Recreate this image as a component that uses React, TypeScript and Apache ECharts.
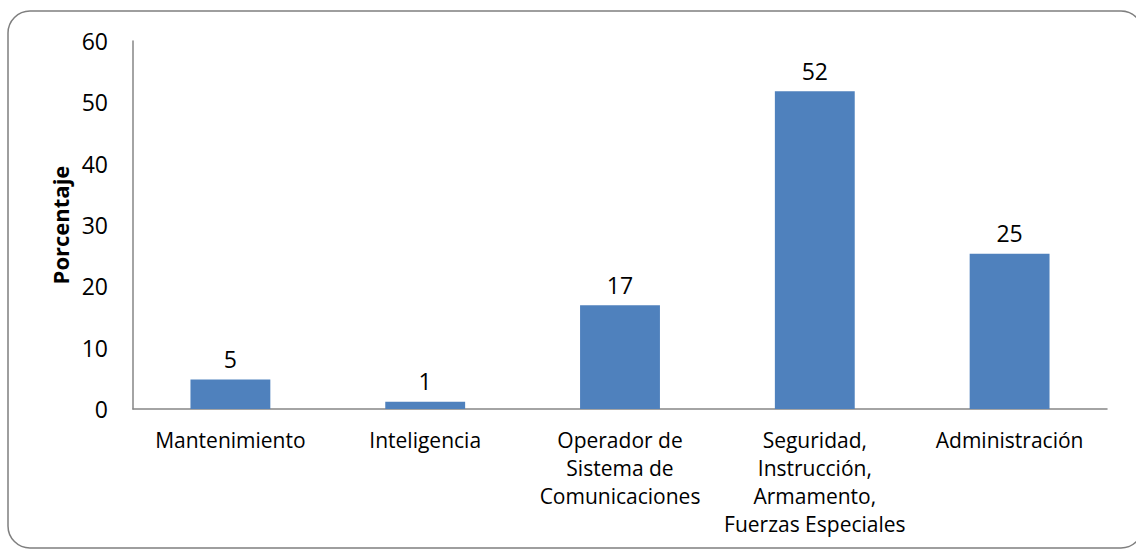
import React, { useEffect, useRef } from "react";
import * as echarts from "echarts";

const categories = [
  "Mantenimiento",
  "Inteligencia",
  "Operador de\nSistema de\nComunicaciones",
  "Seguridad,\nInstrucción,\nArmamento,\nFuerzas Especiales",
  "Administración",
];
const values = [4.8, 1.2, 16.9, 51.8, 25.3];
const yTicks = { min: 0, max: 60, interval: 10 };
const yName = "Porcentaje";

const FONT = "'Open Sans', sans-serif";

export default function App() {
  const ref = useRef<HTMLDivElement>(null);
  useEffect(() => {
    if (!ref.current) return;
    const chart = echarts.init(ref.current, null, { renderer: "svg" });
    chart.setOption({
      animation: false,
      backgroundColor: "#ffffff",
      textStyle: { fontFamily: FONT },
      graphic: [
        {
          type: "rect",
          shape: { x: 8, y: 11, width: 1135, height: 537, r: 22 },
          style: { fill: "none", stroke: "#7f7f7f", lineWidth: 1.5 },
          z: -1,
        },
      ],
      grid: { left: 133, right: 29, top: 41, bottom: 143 },
      xAxis: {
        type: "category",
        data: categories,
        axisLine: { lineStyle: { color: "#868686", width: 1.5 } },
        axisTick: { show: false },
        axisLabel: {
          color: "#000",
          fontSize: 21,
          lineHeight: 28,
          margin: 17,
          interval: 0,
          fontFamily: FONT,
        },
      },
      yAxis: {
        type: "value",
        min: yTicks.min,
        max: yTicks.max,
        interval: yTicks.interval,
        name: yName,
        nameLocation: "middle",
        nameGap: 61,
        nameRotate: 90,
        nameTextStyle: { color: "#000", fontSize: 22, fontWeight: "bold", fontFamily: FONT },
        axisLine: { show: true, lineStyle: { color: "#868686", width: 1.5 } },
        axisTick: { show: false },
        splitLine: { show: false },
        axisLabel: { color: "#000", fontSize: 23, margin: 25, fontFamily: FONT },
      },
      series: [
        {
          type: "bar",
          data: values,
          barCategoryGap: "59%",
          itemStyle: { color: "#4f81bd" },
          label: {
            show: true,
            position: "top",
            distance: 9,
            color: "#000",
            fontSize: 23,
            fontFamily: FONT,
            formatter: (p: any) => String(Math.round(p.value)),
          },
        },
      ],
    });
    return () => chart.dispose();
  }, []);
  return (
    <div
      ref={ref}
      style={{ position: "fixed", left: 0, top: 0, width: 1136, height: 552 }}
    />
  );
}
